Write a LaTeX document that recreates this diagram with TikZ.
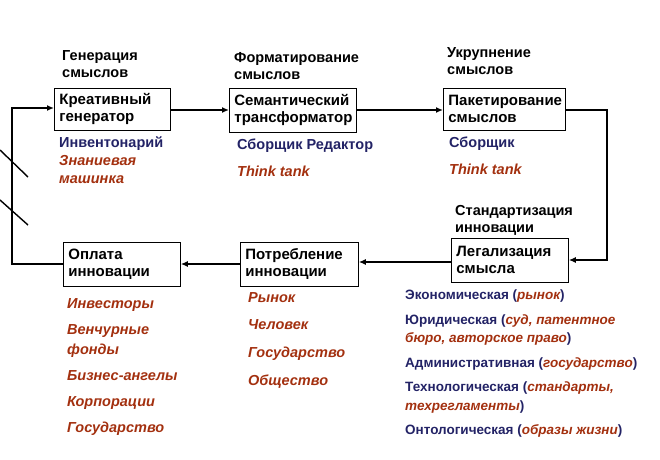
\documentclass[tikz,border=0pt]{standalone}
\usepackage{fontspec}
\setmainfont{Liberation Sans}
\usetikzlibrary{arrows.meta,positioning}
\definecolor{navy}{HTML}{232366}
\definecolor{brick}{HTML}{A3300F}
\tikzset{
  stage/.style={draw,thick,anchor=north west,align=left,inner xsep=5pt,inner ysep=4pt,font=\bfseries\fontsize{15}{17}\selectfont},
  head/.style={anchor=north west,align=left,inner sep=0pt,font=\bfseries\fontsize{14.5}{17}\selectfont},
  who/.style={anchor=north west,align=left,inner sep=0pt,text=navy,font=\bfseries\fontsize{14.5}{17}\selectfont},
  role/.style={anchor=north west,align=left,inner sep=0pt,text=brick,font=\bfseries\itshape\fontsize{14.5}{18}\selectfont},
  flow/.style={-{Latex[length=7pt,width=6pt]},line width=1.6pt}
}
\begin{document}
\begin{tikzpicture}[x=1pt,y=-1pt]
\useasboundingbox (0,0) rectangle (660,459);
% Stages
\node[stage,text width=106pt,minimum height=42pt] (gen) at (54,88) {Креативный\\генератор};
\node[stage,text width=117pt,minimum height=44pt] (sem) at (229,88) {Семантический\\трансформатор};
\node[stage,text width=112pt,minimum height=42pt] (pak) at (443,88) {Пакетирование\\смыслов};
\node[stage,text width=107pt,minimum height=44pt] (leg) at (451,238) {Легализация\\смысла};
\node[stage,text width=108pt,minimum height=44pt] (pot) at (240,242) {Потребление\\инновации};
\node[stage,text width=107pt,minimum height=44pt] (opl) at (63,242) {Оплата\\инновации};
% Headings
\node[head] (hgen) at (62,50) {Генерация\\смыслов};
\node[head] (hsem) at (234,52) {Форматирование\\смыслов};
\node[head] (hpak) at (447,47) {Укрупнение\\смыслов};
\node[head] (hleg) at (455,205) {Стандартизация\\инновации};
% Actors
\node[who] (a1) at (59,137) {Инвентонарий};
\node[role] (r1) at (59,155) {Знаниевая\\машинка};
\node[who] (a2) at (237,139) {Сборщик Редактор};
\node[role] (r2) at (237,166) {Think tank};
\node[who] (a3) at (449,137) {Сборщик};
\node[role] (r3) at (449,164) {Think tank};
\node[role,font=\bfseries\itshape\fontsize{14.5}{27.7}\selectfont] (r5) at (248,292) {Рынок\\Человек\\Государство\\Общество};
\node[role,font=\bfseries\itshape\fontsize{14.5}{20}\selectfont] (r6) at (67,298) {Инвесторы\\[6pt]Венчурные\\фонды\\[6pt]Бизнес-ангелы\\[6pt]Корпорации\\[6pt]Государство};
\node[who,font=\bfseries\fontsize{13.5}{18.5}\selectfont] (r4) at (405,290) {Экономическая (\textcolor{brick}{\itshape рынок})\\[6pt]
Юридическая (\textcolor{brick}{\itshape суд, патентное}\\\textcolor{brick}{\itshape бюро, авторское право})\\[6pt]
Административная (\textcolor{brick}{\itshape государство})\\[6pt]
Технологическая (\textcolor{brick}{\itshape стандарты,}\\\textcolor{brick}{\itshape техрегламенты})\\[6pt]
Онтологическая (\textcolor{brick}{\itshape образы жизни})};
% Flow
\coordinate (c1) at (607,110);
\coordinate (c2) at (607,260);
\coordinate (c3) at (12,264);
\coordinate (c4) at (12,108);
\draw[flow] (gen.east |- 0,110) -- (sem.west |- 0,110);
\draw[flow] (sem.east |- 0,110) -- (pak.west |- 0,110);
\draw[flow] (pak.east |- c1) -- (c1) -- (c2) -- (leg.east |- c2);
\draw[flow] (leg.west |- 0,262) -- (pot.east |- 0,262);
\draw[flow] (pot.west |- 0,264) -- (opl.east |- 0,264);
\draw[flow] (opl.west |- c3) -- (c3) -- (c4) -- (gen.west |- c4);
% Break marks
\draw[line width=1.4pt] (0,150) -- (28,177);
\draw[line width=1.4pt] (0,200) -- (28,225);
\end{tikzpicture}
\end{document}
